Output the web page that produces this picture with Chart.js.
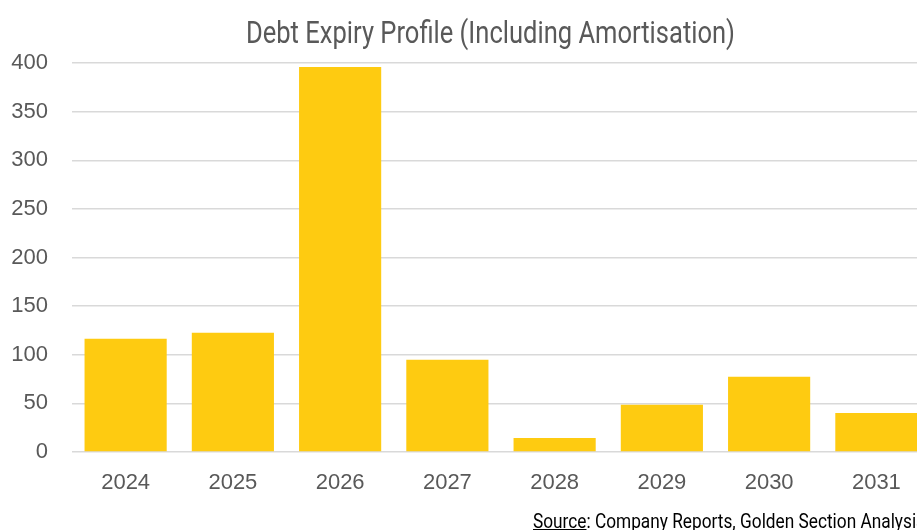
<!DOCTYPE html>
<html>
<head>
<meta charset="utf-8">
<script src="https://cdn.jsdelivr.net/npm/chart.js@4"></script>
<style>
    html, body {
        margin: 0;
        padding: 0;
        overflow: hidden;
        background: #fff;
    }
    #wrap {
        position: absolute;
        left: 0;
        top: 0;
        width: 981px;
        height: 530px;
    }
    .narrow {
        position: absolute;
        font-family: Roboto, "Liberation Sans", sans-serif;
        white-space: nowrap;
        transform-origin: 0 0;
    }
    #title {
        top: 17px;
        font-size: 31px;
        line-height: 31px;
        color: #595959;
    }
    #source {
        top: 511px;
        font-size: 20px;
        line-height: 20px;
        color: #000;
    }
</style>
</head>
<body>
<div id="wrap"><canvas id="debtChart"></canvas></div>
<div id="title" class="narrow">Debt Expiry Profile (Including Amortisation)</div>
<div id="source" class="narrow"><u>Source</u>: Company Reports, Golden Section Analysis</div>
<script>
const years = ['2024', '2025', '2026', '2027', '2028', '2029', '2030', '2031'];
const debtExpiry = [116.5, 122.7, 396, 94.8, 14.4, 48.5, 77.3, 40.2];
const yTicks = [0, 50, 100, 150, 200, 250, 300, 350, 400];

// squeeze the condensed-looking texts to the width they have in the picture
function squeeze(id, left, targetWidth) {
    const el = document.getElementById(id);
    const w = el.getBoundingClientRect().width;
    el.style.left = left + 'px';
    el.style.transform = 'scaleX(' + (targetWidth / w) + ')';
}
squeeze('title', 246, 489);
squeeze('source', 533, 392);

const ctx = document.getElementById('debtChart');

new Chart(ctx, {
    type: 'bar',
    data: {
        labels: years,
        datasets: [{
            label: 'Debt expiry',
            data: debtExpiry,
            backgroundColor: '#FECB11',
            borderWidth: 0,
            barPercentage: 0.766,
            categoryPercentage: 1
        }]
    },
    options: {
        responsive: true,
        maintainAspectRatio: false,
        animation: false,
        layout: {
            padding: {top: 63, right: 51, bottom: 15.6, left: 0}
        },
        plugins: {
            legend: {display: false},
            tooltip: {enabled: false},
            title: {display: false}
        },
        scales: {
            x: {
                grid: {display: false, drawTicks: false},
                border: {display: false},
                ticks: {
                    color: '#595959',
                    font: {family: '"Liberation Sans", Arial, sans-serif', size: 22},
                    padding: 18
                }
            },
            y: {
                min: 0,
                max: 400,
                afterBuildTicks: s => { s.ticks = yTicks.map(v => ({value: v})); },
                afterFit: s => { s.width = 72; },
                grid: {color: '#d9d9d9', lineWidth: 1.5, drawTicks: false},
                border: {display: false},
                ticks: {
                    color: '#595959',
                    font: {family: '"Liberation Sans", Arial, sans-serif', size: 22},
                    padding: 24
                }
            }
        }
    }
});
</script>
</body>
</html>
